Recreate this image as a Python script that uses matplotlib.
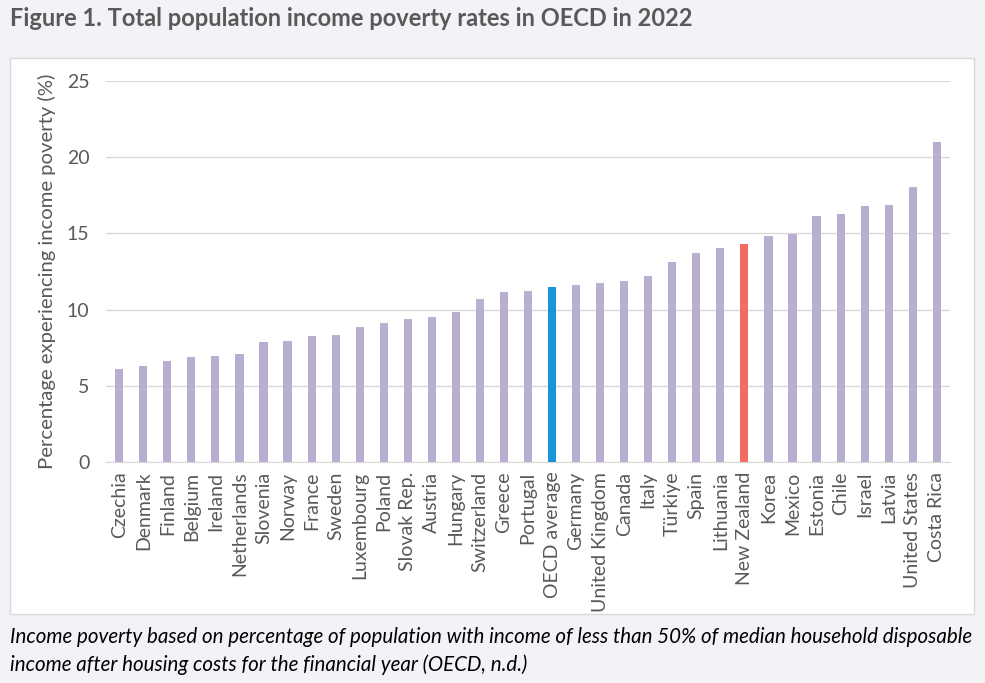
import matplotlib.pyplot as plt
from matplotlib.patches import Rectangle

countries = ["Czechia", "Denmark", "Finland", "Belgium", "Ireland", "Netherlands",
             "Slovenia", "Norway", "France", "Sweden", "Luxembourg", "Poland",
             "Slovak Rep.", "Austria", "Hungary", "Switzerland", "Greece", "Portugal",
             "OECD average", "Germany", "United Kingdom", "Canada", "Italy", "Türkiye",
             "Spain", "Lithuania", "New Zealand", "Korea", "Mexico", "Estonia",
             "Chile", "Israel", "Latvia", "United States", "Costa Rica"]
poverty = [6.1, 6.3, 6.6, 6.9, 6.95, 7.1,
           7.9, 7.95, 8.3, 8.35, 8.85, 9.1,
           9.4, 9.5, 9.85, 10.7, 11.15, 11.2,
           11.5, 11.6, 11.77, 11.88, 12.2, 13.12,
           13.7, 14.06, 14.3, 14.83, 14.98, 16.14,
           16.27, 16.8, 16.84, 18.04, 20.98]
highlight = {"OECD average": "#1a96d8", "New Zealand": "#f26c5f"}
base_color = "#b9aed0"

plt.rcParams['font.family'] = ['Lato', 'DejaVu Sans']

fig = plt.figure(figsize=(9.85, 6.83), dpi=100)
fig.patch.set_facecolor("#f2f2f7")

# white chart box, behind the axes
box = Rectangle((10 / 985, 1 - 614 / 683), 964 / 985, 556 / 683,
                transform=fig.transFigure, facecolor="white",
                edgecolor="#d9d9d9", linewidth=1, zorder=-10)
fig.patches.append(box)

ax = fig.add_axes([106 / 985, 1 - 462 / 683, 844 / 985, 381 / 683])
ax.set_zorder(1)
ax.set_facecolor("none")

colors = [highlight.get(c, base_color) for c in countries]
x = range(len(countries))
ax.bar(x, poverty, width=0.34, color=colors, zorder=3)

ax.set_xlim(-0.55, len(countries) - 0.45)
ax.set_ylim(0, 25)
ax.set_yticks([0, 5, 10, 15, 20, 25])
ax.yaxis.grid(True, color="#d9d9d9", linewidth=1)
ax.set_axisbelow(True)
for s in ["top", "right", "left"]:
    ax.spines[s].set_visible(False)
ax.spines["bottom"].set_color("#d9d9d9")
ax.tick_params(axis="both", length=0, colors="#595959")
ax.tick_params(axis="y", pad=12, labelsize=14)
ax.tick_params(axis="x", pad=7)
ax.set_xticks(list(x))
ax.set_xticklabels(countries, rotation=90, fontsize=14)
ax.set_ylabel("Percentage experiencing income poverty (%)", fontsize=14.6,
              color="#595959", labelpad=8)

fig.text(10 / 985, 1 - 18 / 683, "Figure 1. Total population income poverty rates in OECD in 2022",
         fontsize=17, fontweight="bold", color="#595959", va="center", ha="left")
fig.text(10 / 985, 1 - 637 / 683,
         "Income poverty based on percentage of population with income of less than 50% of median household disposable",
         fontsize=14.8, style="italic", color="black", va="center", ha="left")
fig.text(10 / 985, 1 - 665 / 683,
         "income after housing costs for the financial year (OECD, n.d.)",
         fontsize=14.8, style="italic", color="black", va="center", ha="left")

fig.savefig("out.png", dpi=100, facecolor=fig.get_facecolor())
